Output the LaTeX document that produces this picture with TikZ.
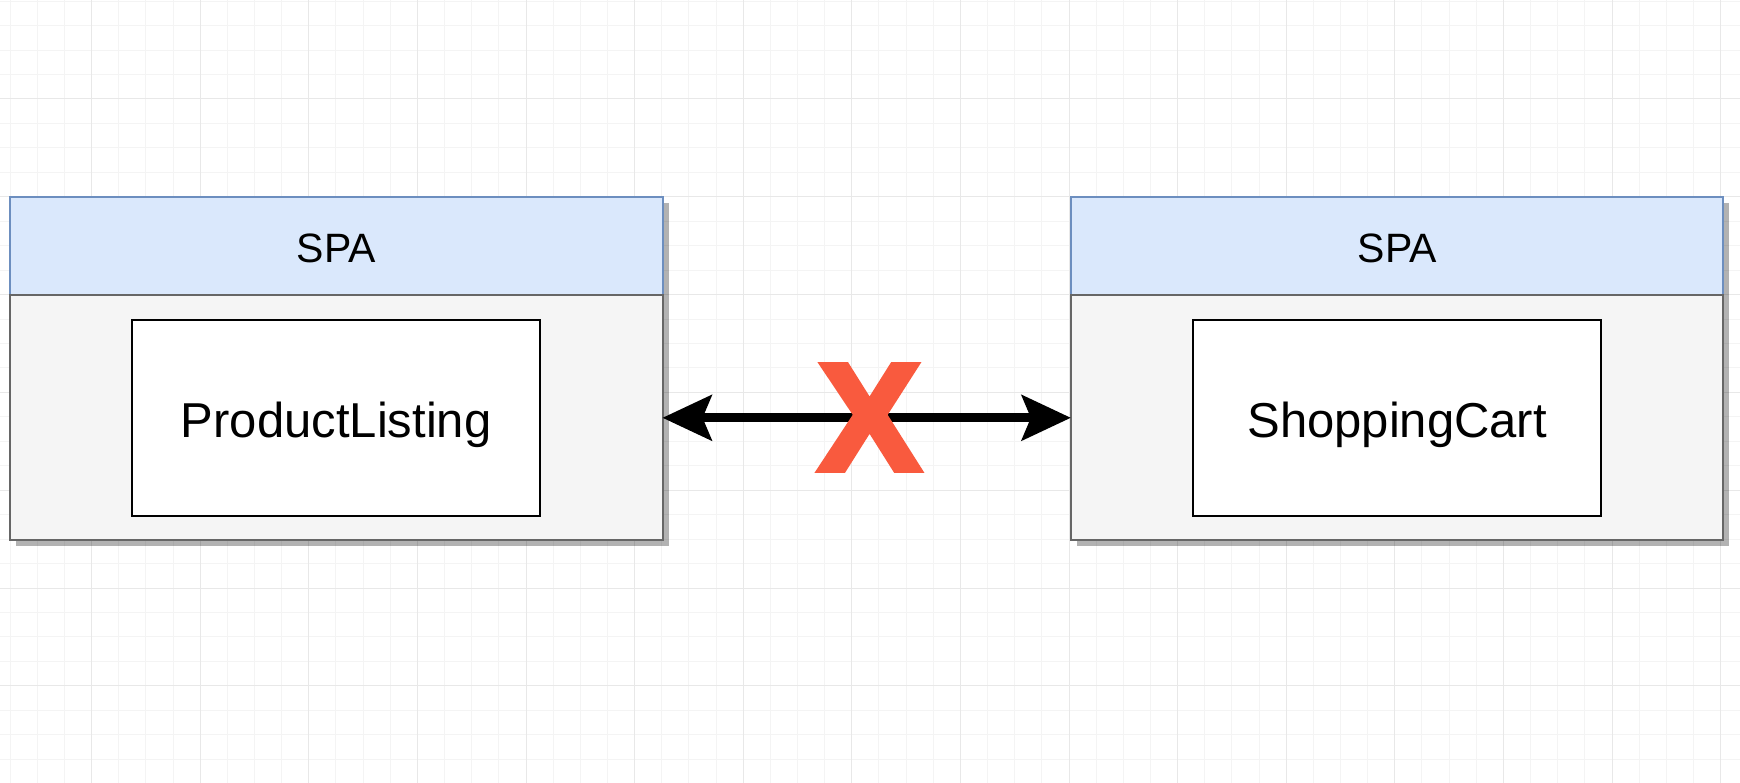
\documentclass[tikz,border=0pt]{standalone}
\usepackage{fontspec}
\setmainfont{Liberation Sans}
\newfontfamily\crossfont{Liberation Sans}[UprightFont={* Bold}, FakeBold=4]
\usetikzlibrary{positioning,arrows.meta,shadows}
\definecolor{spaBlue}{HTML}{DAE8FC}
\definecolor{spaBlueLine}{HTML}{6C8EBF}
\definecolor{spaGray}{HTML}{F5F5F5}
\definecolor{spaGrayLine}{HTML}{666666}
\definecolor{noRed}{HTML}{F95A3E}
\definecolor{gridMinor}{HTML}{F4F4F4}
\definecolor{gridMajor}{HTML}{E8E8E8}
\tikzset{
  boxshadow/.style={drop shadow={shadow xshift=6pt, shadow yshift=-6pt, opacity=.3, fill=black}},
  spahead/.style={draw=spaBlueLine, fill=spaBlue, line width=2pt, outer sep=0pt, inner sep=0pt,
                  minimum width=652.5pt, minimum height=97.7pt, boxshadow,
                  text height=33pt, text depth=0pt, font=\fontsize{41}{48}\selectfont},
  spabody/.style={draw=spaGrayLine, fill=spaGray, line width=2pt, outer sep=0pt, inner sep=0pt,
                  minimum width=652.5pt, minimum height=245.2pt, boxshadow},
  appbox/.style={draw=black, fill=white, line width=2pt, outer sep=0pt, inner sep=0pt,
                 minimum width=408.4pt, minimum height=196.4pt, text height=40pt, text depth=0pt,
                 font=\fontsize{49}{56}\selectfont},
  biflow/.style={{Stealth[length=49pt, width=45pt, inset=9pt]}-{Stealth[length=49pt, width=45pt, inset=9pt]},
                 line width=9pt, draw=black},
  gridminor/.style={draw=gridMinor, line width=1pt},
  gridmajor/.style={draw=gridMajor, line width=1pt},
}

\begin{document}
\begin{tikzpicture}[x=1pt, y=-1pt]
  \useasboundingbox (0,0) rectangle (1740,783);
  \fill[white] (0,0) rectangle (1740,783);
  % background grid
  \foreach \i in {0,...,63} {
    \pgfmathsetmacro\gx{10.15+27.15*\i}
    \draw[gridminor] (\gx,0) -- (\gx,783);
  }
  \foreach \j in {0,...,32} {
    \pgfmathsetmacro\gy{1.2+24.45*\j}
    \draw[gridminor] (0,\gy) -- (1740,\gy);
  }
  \foreach \i in {0,...,15} {
    \pgfmathsetmacro\gx{91.6+108.6*\i}
    \draw[gridmajor] (\gx,0) -- (\gx,783);
  }
  \foreach \j in {0,...,7} {
    \pgfmathsetmacro\gy{99+97.8*\j}
    \draw[gridmajor] (0,\gy) -- (1740,\gy);
  }

  % left SPA
  \node[spahead] (leftHead) at (336.25,246.35) {SPA};
  \node[spabody, below=0pt of leftHead] (leftBody) {};
  \node[appbox] (listing) at (leftBody.center) {ProductListing};

  % right SPA
  \node[spahead, right=408.4pt of leftHead] (rightHead) {SPA};
  \node[spabody, below=0pt of rightHead] (rightBody) {};
  \node[appbox] (cart) at (rightBody.center) {ShoppingCart};

  % no direct link
  \draw[biflow] (leftBody.east) -- (rightBody.west);
  \node[text=noRed, inner sep=0pt, font=\fontsize{152}{152}\crossfont] (noLink) at (869.5,417.5) {X};
\end{tikzpicture}
\end{document}
